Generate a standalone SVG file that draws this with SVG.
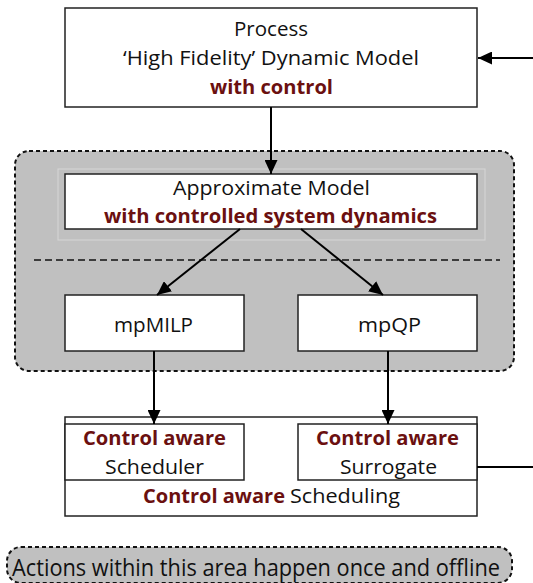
<svg xmlns="http://www.w3.org/2000/svg" width="533" height="583" viewBox="0 0 533 583">
<style>
.box{fill:#fff;stroke:#222;stroke-width:1.5}
.t{font-family:"Open Sans","Liberation Sans",sans-serif;font-size:20.5px;fill:#111}
.b{font-family:"Open Sans","Liberation Sans",sans-serif;font-size:20px;font-weight:bold;fill:#6b1010}
.area{fill:#c0c0c0;stroke:#111;stroke-width:2;stroke-dasharray:4 3}
.c{stroke:#000;stroke-width:2;fill:none}
</style>
<defs>
<marker id="ah" markerUnits="userSpaceOnUse" markerWidth="15" markerHeight="13" refX="14" refY="6.5" orient="auto">
<path d="M0,0 L14,6.5 L0,13 Z" fill="#000"/>
</marker>
</defs>
<rect id="offline-area" class="area" x="15" y="151" width="499" height="220" rx="14"/>
<line x1="34" y1="260" x2="500" y2="260" stroke="#111" stroke-width="1.3" stroke-dasharray="7 4"/>
<g id="process">
<rect class="box" x="65" y="8" width="412" height="99"/>
<text class="t" x="234" y="36" textLength="74" lengthAdjust="spacingAndGlyphs">Process</text>
<text class="t" x="123" y="65" textLength="296" lengthAdjust="spacingAndGlyphs">‘High Fidelity’ Dynamic Model</text>
<text class="b" x="210" y="94" textLength="123" lengthAdjust="spacingAndGlyphs">with control</text>
</g>
<g id="approx">
<rect x="58" y="169" width="427" height="71" fill="none" stroke="#d6d6d6" stroke-width="1"/>
<rect class="box" x="65" y="174" width="412" height="55"/>
<text class="t" x="173" y="195" textLength="197" lengthAdjust="spacingAndGlyphs">Approximate Model</text>
<text class="b" x="104" y="223" textLength="333" lengthAdjust="spacingAndGlyphs">with controlled system dynamics</text>
</g>
<g id="mpmilp">
<rect class="box" x="65" y="295" width="179" height="56"/>
<text class="t" x="114" y="332" textLength="79" lengthAdjust="spacingAndGlyphs">mpMILP</text>
</g>
<g id="mpqp">
<rect class="box" x="298" y="295" width="179" height="56"/>
<text class="t" x="358" y="332" textLength="63" lengthAdjust="spacingAndGlyphs">mpQP</text>
</g>
<g id="scheduling">
<rect class="box" x="65" y="417" width="412" height="99"/>
<text class="b" x="143" y="503" textLength="142" lengthAdjust="spacingAndGlyphs">Control aware</text>
<text class="t" x="290" y="503" textLength="110" lengthAdjust="spacingAndGlyphs">Scheduling</text>
</g>
<g id="scheduler">
<rect class="box" x="65" y="424" width="179" height="56"/>
<text class="b" x="83" y="445" textLength="143" lengthAdjust="spacingAndGlyphs">Control aware</text>
<text class="t" x="105" y="474" textLength="99" lengthAdjust="spacingAndGlyphs">Scheduler</text>
</g>
<g id="surrogate">
<rect class="box" x="298" y="424" width="179" height="56"/>
<text class="b" x="316" y="445" textLength="143" lengthAdjust="spacingAndGlyphs">Control aware</text>
<text class="t" x="340" y="474" textLength="97" lengthAdjust="spacingAndGlyphs">Surrogate</text>
</g>
<g id="legend">
<rect class="area" x="7" y="547" width="505" height="36" rx="14"/>
<text class="t" x="12" y="575.5" style="font-size:23px" textLength="488" lengthAdjust="spacingAndGlyphs">Actions within this area happen once and offline</text>
</g>
<g id="connectors">
<line class="c" x1="533" y1="58" x2="478" y2="58" marker-end="url(#ah)"/>
<line class="c" x1="271" y1="107" x2="271" y2="174" marker-end="url(#ah)"/>
<line class="c" x1="240" y1="229" x2="157" y2="295" marker-end="url(#ah)"/>
<line class="c" x1="301" y1="229" x2="383" y2="295" marker-end="url(#ah)"/>
<line class="c" x1="154" y1="351" x2="154" y2="424" marker-end="url(#ah)"/>
<line class="c" x1="388" y1="351" x2="388" y2="424" marker-end="url(#ah)"/>
<line class="c" x1="477" y1="467" x2="533" y2="467"/>
</g>
</svg>
